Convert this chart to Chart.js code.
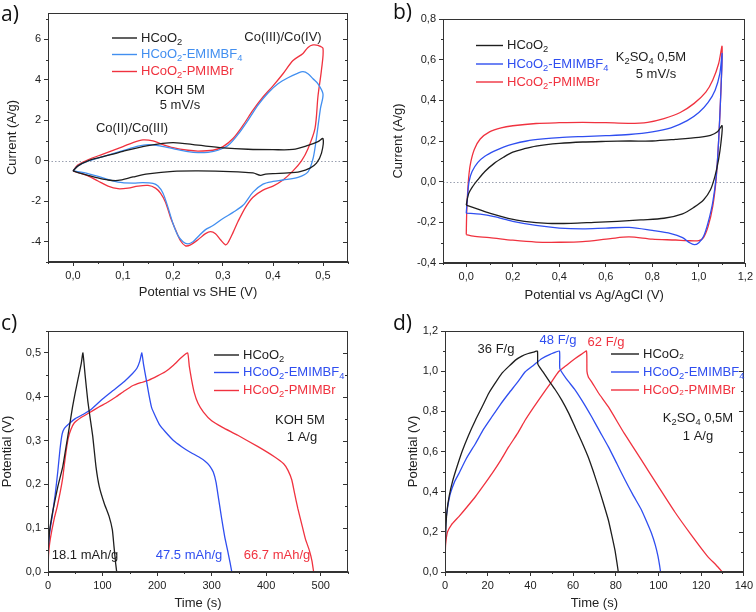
<!DOCTYPE html>
<html>
<head>
<meta charset="UTF-8">
<title>HCoO2 electrodes</title>
<script src="https://cdn.jsdelivr.net/npm/chart.js"></script>
<style>
  body{margin:0;background:#fff;}
  #page{position:relative;width:756px;height:612px;}
  canvas{position:absolute;}
</style>
</head>
<body>
<div id="page">
  <canvas id="ca" width="378" height="306" style="left:0;top:0"></canvas>
  <canvas id="cb" width="378" height="306" style="left:378px;top:0"></canvas>
  <canvas id="cc" width="378" height="306" style="left:0;top:306px"></canvas>
  <canvas id="cd" width="378" height="306" style="left:378px;top:306px"></canvas>
</div>
<script>
// ---- data ----
const seriesNames = ['HCoO_2', 'HCoO_2-EMIMBF_4', 'HCoO_2-PMIMBr'];
const seriesNamesD = ['HCoO₂', 'HCoO_2-EMIMBF_4', 'HCoO₂-PMIMBr'];

// a) CV in KOH 5M, current (A/g) vs potential (V vs SHE)
const cvKOH_HCoO2 = [[0,-0.5],[0.01,-0.25],[0.03,0.0],[0.06,0.2],[0.1,0.47],[0.15,0.75],[0.2,0.9],[0.25,0.77],[0.3,0.64],[0.35,0.57],[0.4,0.55],[0.44,0.56],[0.47,0.76],[0.49,0.95],[0.5,1.1],
  [0.497,0.38],[0.487,-0.12],[0.474,-0.36],[0.454,-0.53],[0.43,-0.6],[0.4,-0.63],[0.385,-0.66],[0.375,-0.72],[0.36,-0.6],[0.33,-0.55],[0.3,-0.52],[0.25,-0.5],[0.2,-0.52],[0.15,-0.65],[0.12,-0.8],[0.09,-0.97],[0.07,-0.95],[0.05,-0.85],[0.03,-0.72],[0.01,-0.58],[0,-0.5]];
const cvKOH_EMIMBF4 = [[0,-0.5],[0.01,-0.25],[0.03,-0.02],[0.06,0.2],[0.1,0.5],[0.13,0.72],[0.15,0.8],[0.17,0.75],[0.2,0.6],[0.23,0.45],[0.25,0.4],[0.27,0.42],[0.29,0.52],[0.31,0.75],[0.33,1.3],[0.35,2.0],[0.37,2.75],[0.39,3.35],[0.41,3.8],[0.43,4.1],[0.45,4.33],[0.46,4.4],[0.47,4.3],[0.48,4.05],[0.49,3.8],[0.5,3.3],
  [0.495,2.6],[0.49,1.7],[0.485,0.8],[0.48,0.1],[0.47,-0.55],[0.45,-0.82],[0.42,-0.95],[0.4,-1.02],[0.38,-1.15],[0.36,-1.55],[0.34,-2.2],[0.32,-2.55],[0.3,-2.85],[0.28,-3.2],[0.265,-3.4],[0.25,-3.75],[0.24,-4.0],[0.23,-4.1],[0.22,-4.0],[0.21,-3.7],[0.2,-3.1],[0.19,-2.3],[0.18,-1.6],[0.17,-1.25],[0.16,-1.12],[0.14,-1.08],[0.12,-1.1],[0.09,-1.05],[0.06,-0.85],[0.03,-0.63],[0,-0.5]];
const cvKOH_PMIMBr = [[0,-0.5],[0.01,-0.2],[0.03,0.05],[0.06,0.33],[0.1,0.7],[0.12,0.9],[0.14,1.03],[0.16,0.98],[0.18,0.8],[0.2,0.65],[0.23,0.52],[0.25,0.48],[0.28,0.52],[0.3,0.7],[0.32,1.1],[0.34,1.75],[0.36,2.5],[0.38,3.15],[0.4,3.7],[0.42,4.3],[0.44,4.95],[0.46,5.3],[0.47,5.6],[0.48,5.72],[0.49,5.7],[0.5,5.55],
  [0.497,4.5],[0.49,3.2],[0.484,1.6],[0.47,0.6],[0.457,0.0],[0.44,-0.5],[0.42,-0.95],[0.4,-1.25],[0.38,-1.45],[0.36,-1.8],[0.345,-2.3],[0.33,-3.0],[0.32,-3.55],[0.31,-4.05],[0.305,-4.15],[0.295,-3.9],[0.285,-3.6],[0.275,-3.5],[0.265,-3.6],[0.25,-3.9],[0.235,-4.15],[0.225,-4.2],[0.215,-3.95],[0.205,-3.4],[0.195,-2.8],[0.185,-2.05],[0.175,-1.6],[0.165,-1.35],[0.15,-1.22],[0.13,-1.25],[0.11,-1.35],[0.09,-1.38],[0.07,-1.25],[0.05,-1.0],[0.03,-0.75],[0,-0.5]];

// b) CV in K2SO4 0,5M, current (A/g) vs potential (V vs Ag/AgCl)
const cvK2SO4_HCoO2 = [[0,-0.115],[0.01,-0.06],[0.03,-0.02],[0.05,0.01],[0.08,0.05],[0.12,0.09],[0.16,0.12],[0.2,0.145],[0.25,0.162],[0.3,0.175],[0.4,0.188],[0.5,0.195],[0.6,0.198],[0.7,0.2],[0.8,0.2],[0.9,0.208],[1.0,0.218],[1.05,0.228],[1.08,0.245],[1.1,0.275],
  [1.095,0.19],[1.085,0.11],[1.07,0.03],[1.05,-0.04],[1.02,-0.09],[0.98,-0.125],[0.93,-0.158],[0.85,-0.18],[0.75,-0.188],[0.65,-0.195],[0.55,-0.2],[0.45,-0.205],[0.35,-0.205],[0.25,-0.195],[0.18,-0.18],[0.1,-0.155],[0.05,-0.135],[0,-0.115]];
const cvK2SO4_EMIMBF4 = [[0,-0.155],[0.005,-0.08],[0.012,0.0],[0.025,0.05],[0.05,0.095],[0.08,0.125],[0.12,0.15],[0.16,0.17],[0.2,0.185],[0.26,0.2],[0.33,0.21],[0.4,0.217],[0.5,0.222],[0.6,0.226],[0.7,0.232],[0.8,0.245],[0.88,0.265],[0.95,0.3],[1.0,0.34],[1.04,0.39],[1.07,0.45],[1.09,0.53],[1.1,0.63],
  [1.095,0.45],[1.085,0.2],[1.075,0.03],[1.06,-0.1],[1.04,-0.2],[1.02,-0.27],[1.0,-0.3],[0.98,-0.31],[0.96,-0.3],[0.93,-0.275],[0.88,-0.255],[0.8,-0.24],[0.7,-0.225],[0.6,-0.228],[0.5,-0.232],[0.4,-0.228],[0.3,-0.215],[0.2,-0.195],[0.12,-0.172],[0.06,-0.16],[0,-0.155]];
const cvK2SO4_PMIMBr = [[0,-0.26],[0.002,-0.15],[0.006,-0.05],[0.012,0.04],[0.02,0.1],[0.035,0.16],[0.06,0.21],[0.1,0.245],[0.15,0.265],[0.2,0.275],[0.3,0.286],[0.4,0.29],[0.5,0.292],[0.6,0.29],[0.7,0.287],[0.78,0.292],[0.85,0.31],[0.92,0.34],[0.98,0.385],[1.03,0.44],[1.06,0.5],[1.085,0.58],[1.1,0.665],
  [1.095,0.45],[1.085,0.2],[1.075,0.02],[1.06,-0.12],[1.04,-0.22],[1.02,-0.275],[1.0,-0.29],[0.95,-0.29],[0.9,-0.287],[0.8,-0.283],[0.7,-0.272],[0.62,-0.28],[0.5,-0.295],[0.4,-0.298],[0.3,-0.297],[0.2,-0.288],[0.1,-0.275],[0.03,-0.268],[0,-0.26]];

// c) charge/discharge in KOH 5M, potential (V) vs time (s)
const gcdKOH_HCoO2 = [[0,0.05],[3,0.095],[9,0.14],[18,0.195],[27,0.24],[33,0.285],[39,0.33],[45,0.377],[50,0.41],[55,0.44],[61,0.476],[64,0.5],[68,0.45],[73,0.39],[78,0.345],[82,0.31],[88,0.24],[94,0.195],[103,0.157],[112,0.127],[118,0.096],[121,0.058],[124,0.02],[126,0]];
const gcdKOH_EMIMBF4 = [[0,0.05],[3,0.09],[8,0.13],[13,0.175],[18,0.23],[22,0.28],[26,0.315],[30,0.328],[38,0.338],[50,0.35],[65,0.36],[80,0.372],[100,0.395],[120,0.415],[140,0.435],[155,0.453],[163,0.465],[168,0.48],[172,0.5],[175,0.475],[180,0.44],[185,0.405],[190,0.375],[197,0.355],[205,0.335],[215,0.32],[230,0.3],[245,0.286],[260,0.274],[276,0.263],[288,0.253],[296,0.243],[303,0.228],[308,0.205],[313,0.165],[318,0.125],[324,0.08],[330,0.045],[334,0.02],[337,0]];
const gcdKOH_PMIMBr = [[0,0.0],[1,0.04],[3,0.065],[7,0.095],[12,0.125],[17,0.15],[22,0.18],[27,0.215],[32,0.265],[37,0.305],[42,0.325],[48,0.34],[60,0.352],[75,0.363],[94,0.377],[110,0.388],[125,0.4],[140,0.413],[155,0.425],[170,0.432],[185,0.438],[200,0.447],[215,0.457],[230,0.472],[245,0.49],[256,0.5],[259,0.47],[263,0.44],[268,0.41],[275,0.385],[285,0.365],[300,0.345],[320,0.33],[348,0.312],[385,0.286],[415,0.263],[432,0.247],[440,0.232],[447,0.21],[452,0.18],[458,0.145],[465,0.11],[472,0.075],[479,0.05],[484,0.025],[487,0]];

// d) charge/discharge in K2SO4 0,5M
const gcdK2SO4_HCoO2 = [[0,0],[0.2,0.15],[0.5,0.24],[1,0.31],[2,0.38],[3.5,0.45],[5.5,0.52],[8,0.6],[11,0.68],[14.3,0.757],[17.5,0.825],[20.5,0.89],[23.5,0.94],[26.7,0.99],[30,1.025],[33,1.055],[36,1.075],[39,1.088],[41.5,1.095],[43.3,1.1],[43.5,1.035],[46,0.995],[48.5,0.955],[51.5,0.91],[54.7,0.856],[58,0.79],[61,0.72],[64,0.65],[67,0.575],[69.5,0.5],[71.8,0.425],[74,0.35],[76.5,0.26],[78,0.19],[79.6,0.11],[80.5,0.05],[81.2,0]];
const gcdK2SO4_EMIMBF4 = [[0,0],[0.2,0.18],[0.5,0.26],[1.2,0.32],[2.5,0.39],[4.5,0.45],[6.5,0.49],[10,0.565],[14.3,0.64],[18,0.71],[22,0.773],[26,0.835],[29.9,0.89],[34,0.945],[37.6,0.997],[41.5,1.03],[45.4,1.063],[49.5,1.085],[53.6,1.1],[53.8,1.013],[57,0.96],[61,0.906],[65,0.84],[68.7,0.773],[72.5,0.7],[76.5,0.624],[80.5,0.54],[84.3,0.459],[88,0.385],[92,0.31],[94.5,0.25],[96.7,0.194],[98.5,0.135],[99.8,0.078],[100.5,0.035],[101,0]];
const gcdK2SO4_PMIMBr = [[0,0],[0.2,0.12],[0.5,0.16],[1.2,0.2],[3,0.235],[6.5,0.276],[10,0.32],[14.3,0.376],[18,0.43],[22,0.49],[26,0.555],[29.9,0.624],[34,0.69],[37.6,0.757],[41.5,0.82],[45.4,0.88],[49.5,0.94],[53.2,0.997],[57,1.03],[61,1.063],[64,1.085],[66.3,1.1],[66.5,1.0],[67.2,0.97],[68.7,0.947],[72,0.89],[76.5,0.823],[84,0.69],[92,0.558],[100,0.425],[107.6,0.3],[115,0.19],[123,0.078],[127,0.035],[130,0]];

// ticks
const ticksA_x = [0, 0.1, 0.2, 0.3, 0.4, 0.5];
const minorA_x = [-0.05, 0.05, 0.15, 0.25, 0.35, 0.45, 0.55];
const ticksA_y = [-4, -2, 0, 2, 4, 6];
const minorA_y = [-5, -3, -1, 1, 3, 5, 7];
const ticksB_x = [0, 0.2, 0.4, 0.6, 0.8, 1.0, 1.2];
const minorB_x = [-0.1, 0.1, 0.3, 0.5, 0.7, 0.9, 1.1];
const ticksB_y = [-0.4, -0.2, 0, 0.2, 0.4, 0.6, 0.8];
const minorB_y = [-0.3, -0.1, 0.1, 0.3, 0.5, 0.7];
const ticksC_x = [0, 100, 200, 300, 400, 500];
const minorC_x = [50, 150, 250, 350, 450, 550];
const ticksC_y = [0, 0.1, 0.2, 0.3, 0.4, 0.5];
const minorC_y = [0.05, 0.15, 0.25, 0.35, 0.45, 0.55];
const ticksD_x = [0, 20, 40, 60, 80, 100, 120, 140];
const minorD_x = [10, 30, 50, 70, 90, 110, 130];
const ticksD_y = [0, 0.2, 0.4, 0.6, 0.8, 1.0, 1.2];
const minorD_y = [0.1, 0.3, 0.5, 0.7, 0.9, 1.1];

const FONT = '"Liberation Sans", Arial, sans-serif';
const BLACK = '#1e1e1e', RED = '#f0323f', BLUE_A = '#428ff0', BLUE = '#2f4ef0';

const comma = d => v => v.toFixed(d).replace('.', ',');
const toXY = arr => arr.map(([x, y]) => ({x, y}));

// text with "_x" subscripts
function richText(ctx, str, x, y, size, color, align) {
  const parts = str.split(/_(\w)/);
  let w = 0;
  parts.forEach((p, i) => { ctx.font = (i % 2 ? size * 0.72 : size) + 'px ' + FONT; w += ctx.measureText(p).width; });
  let cx = align === 'center' ? x - w / 2 : x;
  ctx.fillStyle = color;
  ctx.textAlign = 'left';
  ctx.textBaseline = 'middle';
  parts.forEach((p, i) => {
    const sub = i % 2;
    ctx.font = (sub ? size * 0.72 : size) + 'px ' + FONT;
    ctx.fillText(p, cx, y + (sub ? size * 0.32 : 0));
    cx += ctx.measureText(p).width;
  });
}

const panelDecor = {
  id: 'panelDecor',
  beforeDatasetsDraw(chart, args, o) {
    if (!o.zeroLine) return;
    const {ctx, chartArea: a, scales: {y}} = chart;
    const py = Math.round(y.getPixelForValue(0)) + 0.5;
    ctx.save();
    ctx.strokeStyle = '#9aa0b0';
    ctx.lineWidth = 1;
    ctx.setLineDash([1.5, 2]);
    ctx.beginPath(); ctx.moveTo(a.left, py); ctx.lineTo(a.right, py); ctx.stroke();
    ctx.restore();
  },
  afterDraw(chart, args, o) {
    const {ctx, chartArea: a, scales: {x, y}} = chart;
    ctx.save();
    ctx.strokeStyle = '#333';
    ctx.lineWidth = 1;
    const L = Math.round(a.left) + 0.5, R = Math.round(a.right) - 0.5;
    const T = Math.round(a.top) + 0.5, B = Math.round(a.bottom) - 0.5;
    ctx.strokeRect(L, T, R - L, B - T);
    ctx.beginPath();
    o.minorX.forEach(v => { const px = Math.round(x.getPixelForValue(v)) + 0.5; ctx.moveTo(px, B); ctx.lineTo(px, B + 2.5); });
    o.minorY.forEach(v => { const py = Math.round(y.getPixelForValue(v)) + 0.5; ctx.moveTo(L, py); ctx.lineTo(L - 2.5, py); ctx.moveTo(R, py); ctx.lineTo(R - 2.5, py); });
    o.majorY.forEach(v => { const py = Math.round(y.getPixelForValue(v)) + 0.5; ctx.moveTo(R, py); ctx.lineTo(R - 4.5, py); });
    ctx.stroke();
    // legend
    const lg = o.legend;
    chart.data.datasets.forEach((ds, i) => {
      const ly = a.top + lg.rows[i];
      ctx.strokeStyle = ds.borderColor;
      ctx.lineWidth = 1.4;
      ctx.beginPath(); ctx.moveTo(a.left + lg.x, ly); ctx.lineTo(a.left + lg.x + lg.len, ly); ctx.stroke();
      richText(ctx, ds.label, a.left + lg.x + lg.len + 4, ly, 13, ds.borderColor, 'left');
    });
    // notes
    o.notes.forEach(n => richText(ctx, n.text, a.left + n.dx, a.top + n.dy, 13, n.color || BLACK, 'center'));
    // panel letter
    ctx.fillStyle = '#111';
    ctx.font = '21px "Open Sans", ' + FONT;
    ctx.textAlign = 'left';
    ctx.textBaseline = 'middle';
    ctx.fillText(o.letter.text, o.letter.x, o.letter.y);
    ctx.restore();
  }
};

function axis(o) {
  return {
    type: 'linear', min: o.min, max: o.max,
    afterBuildTicks: s => { s.ticks = o.major.map(v => ({value: v})); },
    afterFit: s => { if (s.isHorizontal()) s.height = o.size; else s.width = o.size; },
    ticks: {autoSkip: false, maxRotation: 0, color: '#222', padding: 3, font: {family: FONT, size: 11}, callback: o.fmt},
    grid: {drawOnChartArea: false, drawTicks: true, tickLength: 4, color: '#333', tickColor: '#333'},
    border: {display: true, color: '#333'},
    title: {display: true, text: o.title, color: '#222', font: {family: FONT, size: 13}, padding: o.titlePad}
  };
}

function panel(id, p) {
  new Chart(document.getElementById(id), {
    type: 'scatter',
    data: {
      datasets: p.series.map((s, i) => ({
        label: p.names[i], data: toXY(s), borderColor: p.colors[i], backgroundColor: p.colors[i],
        showLine: true, pointRadius: 0, borderWidth: 1.3, tension: p.tension, fill: false
      }))
    },
    options: {
      responsive: false, animation: false, events: [],
      layout: {padding: p.pad},
      plugins: {
        legend: {display: false}, tooltip: {enabled: false},
        panelDecor: {zeroLine: p.zeroLine, minorX: p.minorX, minorY: p.minorY, majorY: p.y.major, legend: p.legend, notes: p.notes, letter: p.letter}
      },
      scales: {x: axis(p.x), y: axis(p.y)}
    },
    plugins: [panelDecor]
  });
}

panel('ca', {
  series: [cvKOH_HCoO2, cvKOH_EMIMBF4, cvKOH_PMIMBr], names: seriesNames, colors: [BLACK, BLUE_A, RED],
  tension: 0.3, zeroLine: true, pad: {left: 0, top: 13, right: 30, bottom: 0},
  x: {min: -0.05, max: 0.55, major: ticksA_x, size: 44, fmt: comma(1), title: 'Potential vs SHE (V)', titlePad: {top: 0, bottom: 6}},
  y: {min: -5, max: 7.3, major: ticksA_y, size: 48, fmt: v => String(v), title: 'Current (A/g)', titlePad: {top: 5, bottom: 0}},
  minorX: minorA_x, minorY: minorA_y,
  legend: {x: 64, len: 25, rows: [25, 41.5, 58.5]},
  notes: [{text: 'Co(III)/Co(IV)', dx: 235, dy: 24}, {text: 'KOH 5M', dx: 132, dy: 77}, {text: '5 mV/s', dx: 132, dy: 92}, {text: 'Co(II)/Co(III)', dx: 84, dy: 115}],
  letter: {text: 'a)', x: 1, y: 15}
});

panel('cb', {
  series: [cvK2SO4_HCoO2, cvK2SO4_EMIMBF4, cvK2SO4_PMIMBr], names: seriesNames, colors: [BLACK, BLUE, RED],
  tension: 0.3, zeroLine: true, pad: {left: 0, top: 19, right: 10, bottom: 0},
  x: {min: -0.1, max: 1.2, major: ticksB_x, size: 43, fmt: comma(1), title: 'Potential vs Ag/AgCl (V)', titlePad: {top: 0, bottom: 3}},
  y: {min: -0.4, max: 0.8, major: ticksB_y, size: 65, fmt: comma(1), title: 'Current (A/g)', titlePad: {top: 13, bottom: 0}},
  minorX: minorB_x, minorY: minorB_y,
  legend: {x: 33, len: 27, rows: [26.5, 45, 63]},
  notes: [{text: 'K_2SO_4 0,5M', dx: 208, dy: 38}, {text: '5 mV/s', dx: 213, dy: 55}],
  letter: {text: 'b)', x: 15, y: 13}
});

panel('cc', {
  series: [gcdKOH_HCoO2, gcdKOH_EMIMBF4, gcdKOH_PMIMBr], names: seriesNames, colors: [BLACK, BLUE, RED],
  tension: 0.15, zeroLine: false, pad: {left: 0, top: 25, right: 30, bottom: 0},
  x: {min: 0, max: 550, major: ticksC_x, size: 40, fmt: v => String(v), title: 'Time (s)', titlePad: {top: 0, bottom: 1}},
  y: {min: 0, max: 0.55, major: ticksC_y, size: 48, fmt: comma(1), title: 'Potential (V)', titlePad: {top: 0, bottom: 0}},
  minorX: minorC_x, minorY: minorC_y,
  legend: {x: 166, len: 25, rows: [24, 41.5, 59.5]},
  notes: [{text: 'KOH 5M', dx: 252, dy: 89}, {text: '1 A/g', dx: 254, dy: 106},
    {text: '18.1 mAh/g', dx: 37, dy: 224}, {text: '47.5 mAh/g', dx: 141, dy: 224, color: BLUE}, {text: '66.7 mAh/g', dx: 229, dy: 224, color: RED}],
  letter: {text: 'c)', x: 1, y: 18}
});

panel('cd', {
  series: [gcdK2SO4_HCoO2, gcdK2SO4_EMIMBF4, gcdK2SO4_PMIMBr], names: seriesNamesD, colors: [BLACK, BLUE, RED],
  tension: 0.15, zeroLine: false, pad: {left: 0, top: 25, right: 11, bottom: 0},
  x: {min: 0, max: 140, major: ticksD_x, size: 40, fmt: v => String(v), title: 'Time (s)', titlePad: {top: 0, bottom: 1}},
  y: {min: 0, max: 1.2, major: ticksD_y, size: 67, fmt: comma(1), title: 'Potential (V)', titlePad: {top: 28, bottom: 0}},
  minorX: minorD_x, minorY: minorD_y,
  legend: {x: 166, len: 28, rows: [23, 41, 59]},
  notes: [{text: '36 F/g', dx: 51, dy: 18}, {text: '48 F/g', dx: 113, dy: 9, color: BLUE}, {text: '62 F/g', dx: 161, dy: 11, color: RED},
    {text: 'K_2SO_4 0,5M', dx: 253, dy: 87}, {text: '1 A/g', dx: 253, dy: 105}],
  letter: {text: 'd)', x: 15, y: 18}
});
</script>
</body>
</html>
